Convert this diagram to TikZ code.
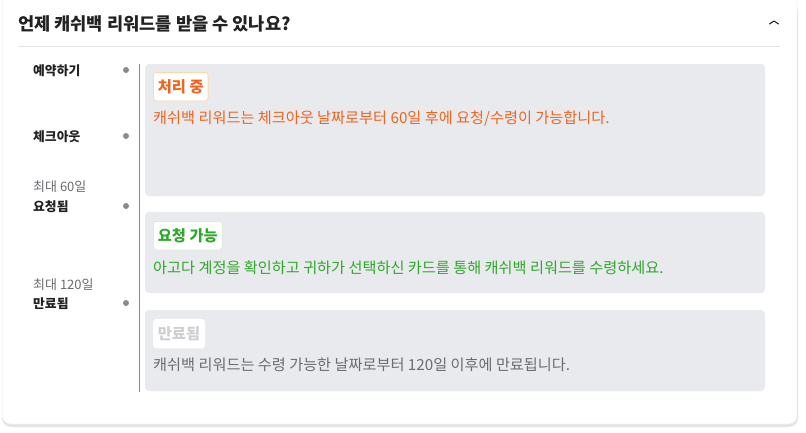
\documentclass[tikz,border=0pt]{standalone}
\usepackage{fontspec}
\setmainfont{Noto Sans CJK KR}
\usetikzlibrary{calc,positioning}
\definecolor{cardline}{HTML}{E4E4E6}
\definecolor{panel}{HTML}{E9EAEE}
\definecolor{titlegray}{HTML}{222222}
\definecolor{dotgray}{HTML}{8A8A8E}
\definecolor{procorange}{HTML}{F0641E}
\definecolor{procedge}{HTML}{FDD9A8}
\definecolor{okgreen}{HTML}{2EA82A}
\definecolor{okedge}{HTML}{D5EFCF}
\definecolor{expgray}{HTML}{CFCFD2}
\definecolor{bodygray}{HTML}{6B6B70}

\begin{document}
\begin{tikzpicture}[x=1pt,y=-1pt,
    steplabel/.style={anchor=west,font=\bfseries\fontsize{12.8}{14}\selectfont,text=titlegray,inner sep=0pt},
    daylabel/.style={anchor=west,font=\fontsize{13}{14}\selectfont,text=bodygray,inner sep=0pt},
    stepdot/.style={circle,fill=dotgray,inner sep=0pt,minimum size=6pt},
    panelbox/.style={fill=panel,rounded corners=4pt},
    badge/.style={anchor=north west,fill=white,draw=#1,rounded corners=3pt,line width=0.8pt,
      font=\bfseries\fontsize{15.3}{17}\selectfont,inner xsep=4.5pt,inner ysep=0pt,minimum height=28.5pt},
    bodytext/.style={anchor=west,font=\fontsize{15.2}{17}\selectfont,inner sep=0pt}]
  \useasboundingbox (0,0) rectangle (806,432);
  \fill[white] (0,0) rectangle (806,432);
  % card with soft shadow
  \fill[black!10,rounded corners=9pt] (2,2) rectangle (798,427);
  \fill[white,draw=cardline,rounded corners=8pt] (2,-8) rectangle (797,424);
  \node[anchor=west,font=\bfseries\fontsize{17.6}{20}\selectfont,text=titlegray,inner sep=0pt] (title) at (18,24) {언제 캐쉬백 리워드를 받을 수 있나요?};
  \coordinate (chev) at (774,21);
  \draw[titlegray,line width=1pt,line cap=round,line join=round] ($(chev)+(-4.5,3)$) -- (chev) -- ($(chev)+(4.5,3)$);
  \draw[cardline,line width=1.2pt] (18,46.5) -- (780,46.5);
  % timeline
  \draw[dotgray,line width=0.9pt] (139.5,64) -- (139.5,392);
  \node[steplabel] (book) at (33,71) {예약하기};
  \node[stepdot] (bookdot) at (126,70) {};
  \node[steplabel] (checkout) at (33,137) {체크아웃};
  \node[stepdot] (checkdot) at (126,136) {};
  \node[daylabel] (max60) at (33,187) {최대 60일};
  \node[steplabel] (requested) at (33,207) {요청됨};
  \node[stepdot] (reqdot) at (126,206) {};
  \node[daylabel] (max120) at (33,285) {최대 120일};
  \node[steplabel] (expired) at (33,304) {만료됨};
  \node[stepdot] (expdot) at (126,303) {};
  % panels
  \fill[panelbox] (145,64) rectangle (765,196);
  \node[badge=procedge,text=procorange] (proc) at (153,72) {처리 중};
  \node[bodytext,text=procorange] (proctext) at (153,119) {캐쉬백 리워드는 체크아웃 날짜로부터 60일 후에 요청/수령이 가능합니다.};
  \fill[panelbox] (145,212) rectangle (765,293);
  \node[badge=okedge,text=okgreen] (ok) at (153,221) {요청 가능};
  \node[bodytext,text=okgreen] (oktext) at (153,268) {아고다 계정을 확인하고 귀하가 선택하신 카드를 통해 캐쉬백 리워드를 수령하세요.};
  \fill[panelbox] (145,310) rectangle (765,391);
  \node[badge=white,text=expgray] (exp) at (153,319) {만료됨};
  \node[bodytext,text=bodygray] (exptext) at (153,365) {캐쉬백 리워드는 수령 가능한 날짜로부터 120일 이후에 만료됩니다.};
\end{tikzpicture}
\end{document}
